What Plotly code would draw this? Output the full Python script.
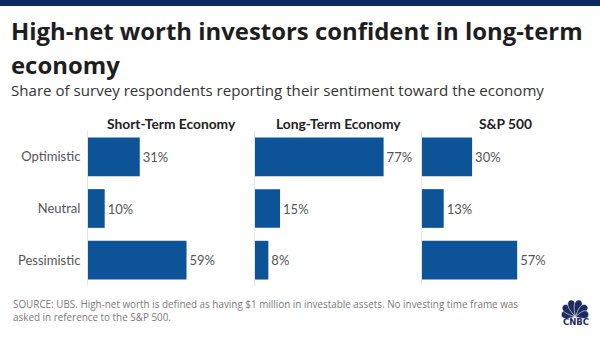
import math
import plotly.graph_objects as go
from plotly.subplots import make_subplots

# Survey data
categories = ["Optimistic", "Neutral", "Pessimistic"]
panel_titles = ["Short-Term Economy", "Long-Term Economy", "S&P 500"]
short_term = [31, 10, 59]
long_term = [77, 15, 8]
sp500 = [30, 13, 57]

W, H = 600, 337
BAR = "#0c5497"
NAVY = "#0b2a5c"
FONT = "Lato, 'Open Sans', Arial, sans-serif"
HEAD = "'Open Sans', Lato, Arial, sans-serif"


def px(x):
    return x / W


def py(y):
    return 1 - y / H


fig = make_subplots(rows=1, cols=3, shared_yaxes=True, horizontal_spacing=0)

for i, vals in enumerate([short_term, long_term, sp500], start=1):
    fig.add_trace(
        go.Bar(
            y=categories,
            x=vals,
            orientation="h",
            marker=dict(color=BAR, line=dict(width=0)),
            text=[f"{v}%" for v in vals],
            textposition="outside",
            textfont=dict(family=FONT, size=13, color="#555555"),
            cliponaxis=False,
            hoverinfo="skip",
        ),
        row=1, col=i,
    )

# Panel placement (pixel based)
left0, pw = 88, 167
y_top, y_bot = 131, 286
for i in range(3):
    xa = "xaxis" if i == 0 else f"xaxis{i+1}"
    ya = "yaxis" if i == 0 else f"yaxis{i+1}"
    x0 = left0 + i * pw
    fig.layout[xa].update(
        domain=[px(x0), px(x0 + pw)], range=[0, 100],
        showticklabels=False, showgrid=False, zeroline=False, showline=False,
        fixedrange=True,
    )
    fig.layout[ya].update(
        domain=[py(y_bot), py(y_top)],
        autorange="reversed" if i == 0 else None,
        showline=True, linecolor="#e3e3e3", linewidth=1,
        showgrid=False, zeroline=False,
        showticklabels=(i == 0),
        ticks="outside" if i == 0 else "", ticklen=4, tickcolor="rgba(0,0,0,0)",
        tickfont=dict(family=FONT, size=13, color="#555555"),
    )
    fig.add_annotation(
        text=f"<b>{panel_titles[i]}</b>", xref="paper", yref="paper",
        x=px(x0 + pw / 2), y=py(123), xanchor="center", yanchor="middle",
        showarrow=False, font=dict(family=FONT, size=13.8, color="#222222"),
    )

# Header
for txt, yc in [("High-net worth investors confident in long-term", 31),
                ("economy", 64)]:
    fig.add_annotation(
        text=f"<b>{txt}</b>", xref="paper", yref="paper", x=px(9), y=py(yc),
        xanchor="left", yanchor="middle", showarrow=False,
        font=dict(family=HEAD, size=23.9, color="#1e1e1e"),
    )
fig.add_annotation(
    text="Share of survey respondents reporting their sentiment toward the economy",
    xref="paper", yref="paper", x=px(9), y=py(90), xanchor="left", yanchor="middle",
    showarrow=False, font=dict(family=HEAD, size=15.1, color="#333333"),
)

# Footer
for txt, yc in [("SOURCE: UBS. High-net worth is defined as having $1 million in investable "
                 "assets. No investing time frame was", 304),
                ("asked in reference to the S&P 500.", 316.5)]:
    fig.add_annotation(
        text=txt, xref="paper", yref="paper", x=px(11), y=py(yc),
        xanchor="left", yanchor="middle", showarrow=False,
        font=dict(family=HEAD, size=9.9, color="#7a7a7a"),
    )

shapes = [
    dict(type="rect", xref="paper", yref="paper", x0=0, x1=1, y0=py(6), y1=1,
         fillcolor=NAVY, line=dict(width=0), layer="above"),
]

# Peacock logo: six feathers fanning out from a common base
bx, by = 575, 317
angles = [-76, -46, -15, 15, 46, 76]
lengths = [14, 16.5, 17.5, 17.5, 16.5, 14]
for ang, ln in zip(angles, lengths):
    a = math.radians(ang)
    pts = []
    for k in range(31):
        t = 2 * math.pi * k / 30
        u = (ln / 2) * (1 - math.cos(t))  # along feather
        v = 5.6 * math.sin(t) * (u / ln) ** 0.8
        x = bx + u * math.sin(a) + v * math.cos(a)
        y = by - u * math.cos(a) + v * math.sin(a)
        pts.append((px(x), py(y)))
    path = "M " + " L ".join(f"{x:.5f},{y:.5f}" for x, y in pts) + " Z"
    shapes.append(dict(type="path", xref="paper", yref="paper", path=path,
                       fillcolor="#1c2c5e", line=dict(color="white", width=0.6)))
fig.add_annotation(
    text="<b>CNBC</b>", xref="paper", yref="paper", x=px(576), y=py(322),
    xanchor="center", yanchor="middle", showarrow=False,
    font=dict(family="'DejaVu Sans', Arial", size=8.5, color="#1c2c5e"),
)

fig.update_layout(
    width=W, height=H, margin=dict(l=0, r=0, t=0, b=0),
    paper_bgcolor="white", plot_bgcolor="white",
    showlegend=False, bargap=0.25, shapes=shapes,
    font=dict(family=FONT),
)

fig.write_html("out.html", config={"displayModeBar": False})
